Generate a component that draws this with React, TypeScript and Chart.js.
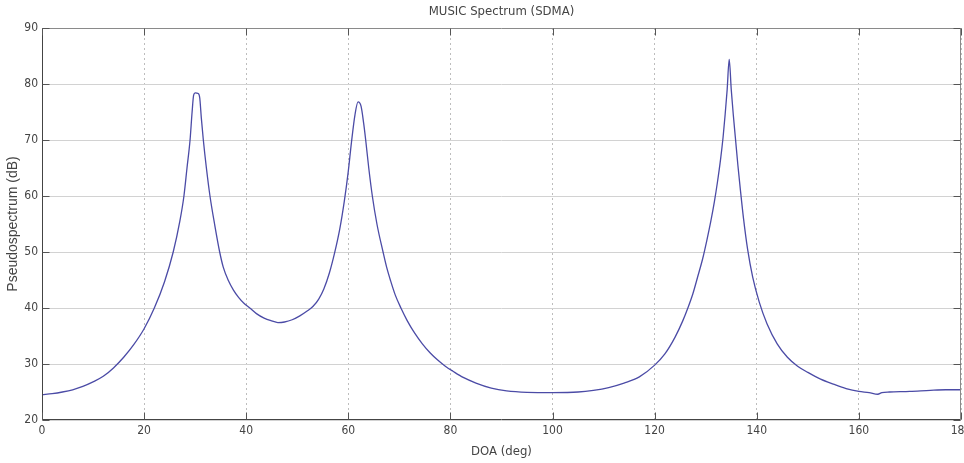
import { useEffect, useRef } from "react";
import { Chart, registerables } from "chart.js";

Chart.register(...registerables);

const TITLE = "MUSIC Spectrum (SDMA)";
const X_LABEL = "DOA (deg)";
const Y_LABEL = "Pseudospectrum (dB)";
const X_TICKS = [0, 20, 40, 60, 80, 100, 120, 140, 160, 180];
const Y_TICKS = [20, 30, 40, 50, 60, 70, 80, 90];

const doaDeg = [
  0, 2, 4, 6, 8, 10, 12, 14, 16, 18, 20, 22, 24, 25.7, 27, 27.8, 28.4, 29.0, 29.4, 29.7,
  30.0, 30.6, 30.9, 31.2, 31.6, 32.2, 32.9, 33.8, 34.8, 35.5, 36.5, 37.5, 38.5, 39.5, 40.7,
  42.0, 43.5, 45.0, 46.2, 47.5, 49.0, 50.5, 52.0, 53.1, 54.2, 55.2, 56.3, 57.3, 58.3, 59.2,
  60.0, 60.6, 61.3, 61.9, 62.5, 63.0, 63.4, 64.0, 64.7, 65.6, 66.8, 67.5, 68.3, 69.2, 70.3,
  71.5, 73.0, 74.5, 76.0, 77.5, 79.0, 80.5, 82.5, 85.0, 88.0, 91.0, 95.0, 100.0, 105.0,
  108.0, 111.0, 114.0, 117.0, 120.0, 122.0, 124.0, 125.5, 126.5, 127.5, 128.4, 129.4, 130.2,
  131.0, 131.7, 132.3, 132.9, 133.4, 133.8, 134.2, 134.6, 135.0, 135.4, 135.8, 136.3, 136.8,
  137.4, 138.2, 139.2, 140.5, 142.0, 144.0, 146.0, 148.0, 150.0, 152.5, 155.0, 157.5, 160.0,
  162.0, 163.7, 164.5, 166.0, 170.0, 174.0, 177.0, 180.0,
];

const spectrumDb = [
  24.5, 24.7, 25.0, 25.4, 26.0, 26.8, 27.8, 29.3, 31.2, 33.5, 36.3, 40.0, 44.7, 50.0, 55.5,
  60.0, 65.0, 70.0, 75.0, 78.0, 78.4, 78.3, 77.5, 74.0, 70.0, 65.0, 60.0, 55.0, 50.0, 47.3,
  44.9, 43.2, 41.9, 40.9, 40.0, 39.0, 38.2, 37.7, 37.4, 37.5, 37.9, 38.6, 39.5, 40.3, 41.6,
  43.4, 46.3, 49.8, 54.0, 59.0, 64.5, 69.5, 74.5, 76.8, 76.0, 73.0, 70.0, 65.0, 60.0, 55.0,
  50.0, 47.3, 44.8, 42.3, 40.0, 37.8, 35.5, 33.6, 32.0, 30.7, 29.6, 28.7, 27.6, 26.6, 25.7,
  25.2, 24.95, 24.9, 25.0, 25.3, 25.8, 26.6, 27.7, 29.8, 31.8, 34.8, 37.7, 40.0, 42.6, 45.5,
  48.8, 52.0, 55.5, 59.0, 62.5, 66.5, 70.5, 74.5, 79.0, 84.4, 79.0, 74.5, 70.5, 65.5, 61.0,
  56.0, 50.5, 45.5, 41.0, 37.2, 33.6, 31.2, 29.6, 28.5, 27.3, 26.4, 25.6, 25.1, 24.9, 24.6,
  24.9, 25.0, 25.1, 25.3, 25.4, 25.4,
];

const NARROW = "'Liberation Sans Narrow', 'DejaVu Sans Condensed', Arial, sans-serif";
const REGULAR = "'Liberation Sans', Arial, sans-serif";

const framePlugin = {
  id: "matlabFrame",
  afterDraw(chart: any) {
    const { ctx, chartArea: a, scales } = chart;
    const xs = scales.x;
    const ys = scales.y;
    const L = Math.round(a.left) + 0.5;
    const R = Math.round(a.right) - 0.5;
    const T = Math.round(a.top) + 0.5;
    const B = Math.round(a.bottom) - 0.5;
    ctx.save();
    ctx.lineWidth = 1;
    ctx.strokeStyle = "#8a8a8a";
    ctx.beginPath();
    ctx.moveTo(L, T);
    ctx.lineTo(R, T);
    ctx.lineTo(R, B);
    ctx.stroke();
    ctx.strokeStyle = "#444";
    ctx.beginPath();
    ctx.moveTo(L, T);
    ctx.lineTo(L, B);
    ctx.lineTo(R, B);
    ctx.stroke();
    const tl = 7;
    ctx.strokeStyle = "#555";
    ctx.beginPath();
    X_TICKS.forEach((v) => {
      const px = Math.round(xs.getPixelForValue(v)) + 0.5;
      ctx.moveTo(px, B);
      ctx.lineTo(px, B - tl);
      ctx.moveTo(px, T);
      ctx.lineTo(px, T + tl);
    });
    Y_TICKS.forEach((v) => {
      const py = Math.round(ys.getPixelForValue(v)) + 0.5;
      ctx.moveTo(L, py);
      ctx.lineTo(L + tl, py);
      ctx.moveTo(R, py);
      ctx.lineTo(R - tl, py);
    });
    ctx.stroke();
    ctx.fillStyle = "#444";
    ctx.textAlign = "center";
    ctx.textBaseline = "middle";
    ctx.font = `13px ${NARROW}`;
    const cx = (a.left + a.right) / 2;
    ctx.fillText(TITLE, cx, 12);
    ctx.fillText(X_LABEL, cx, 452);
    ctx.translate(13, (a.top + a.bottom) / 2);
    ctx.rotate(-Math.PI / 2);
    ctx.font = `14px ${REGULAR}`;
    ctx.fillText(Y_LABEL, 0, 0);
    ctx.restore();
  },
};

export default function App() {
  const ref = useRef<HTMLCanvasElement | null>(null);
  useEffect(() => {
    document.body.style.margin = "0";
    const canvas = ref.current;
    if (!canvas) return;
    const chart = new Chart(canvas, {
      type: "line",
      data: {
        datasets: [
          {
            data: doaDeg.map((x, i) => ({ x, y: spectrumDb[i] })),
            borderColor: "#4b4ba6",
            borderWidth: 1.3,
            pointRadius: 0,
            cubicInterpolationMode: "monotone",
            fill: false,
          },
        ],
      },
      options: {
        animation: false,
        responsive: false,
        events: [],
        layout: { padding: { top: 28, right: 3, left: 0, bottom: 0 } },
        plugins: {
          legend: { display: false },
          title: { display: false },
          tooltip: { enabled: false },
        },
        scales: {
          x: {
            type: "linear",
            min: 0,
            max: 180,
            afterBuildTicks: (s: any) => {
              s.ticks = X_TICKS.map((v) => ({ value: v }));
            },
            afterFit: (s: any) => {
              s.height = 43;
              s.paddingLeft = 0;
              s.paddingRight = 0;
            },
            ticks: {
              padding: 4,
              maxRotation: 0,
              autoSkip: false,
              color: "#444",
              font: { family: NARROW, size: 12 },
            },
            grid: { color: "#bdbdbd", drawTicks: false, lineWidth: 1 },
            border: { display: false, dash: [2, 3] },
          },
          y: {
            type: "linear",
            min: 20,
            max: 90,
            afterBuildTicks: (s: any) => {
              s.ticks = Y_TICKS.map((v) => ({ value: v }));
            },
            afterFit: (s: any) => {
              s.width = 42;
              s.paddingTop = 0;
              s.paddingBottom = 0;
            },
            ticks: {
              padding: 4,
              color: "#444",
              font: { family: NARROW, size: 12 },
            },
            grid: { color: "#d2d2d2", drawTicks: false, lineWidth: 1 },
            border: { display: false },
          },
        },
      },
      plugins: [framePlugin],
    } as any);
    return () => chart.destroy();
  }, []);
  return (
    <div style={{ width: 964, height: 463, background: "#fff" }}>
      <canvas ref={ref} width={964} height={463} style={{ display: "block" }} />
    </div>
  );
}
